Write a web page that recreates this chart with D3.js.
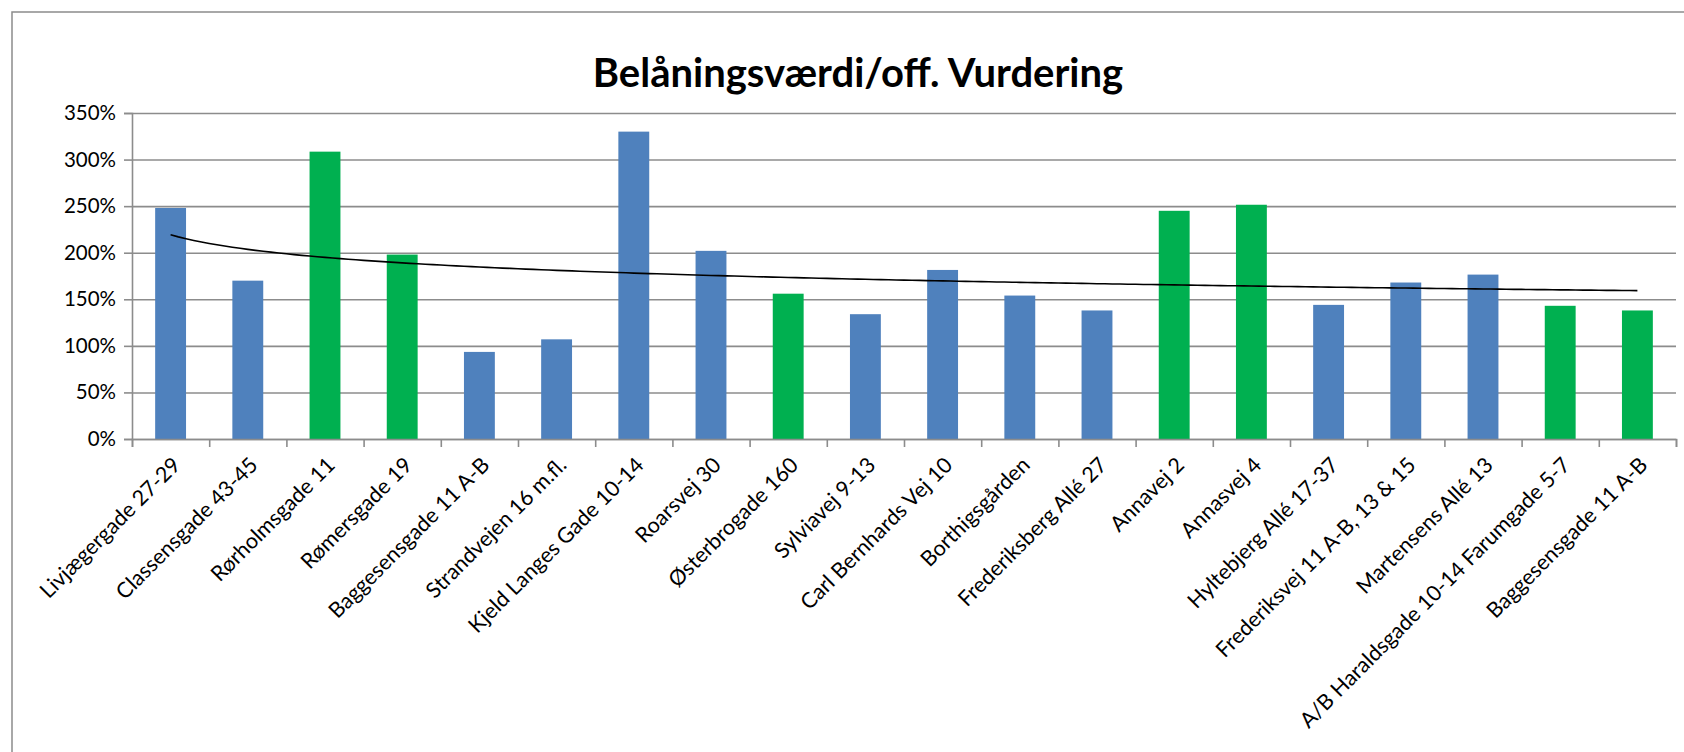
<!DOCTYPE html>
<html>
<head>
<meta charset="utf-8">
<script src="https://cdn.jsdelivr.net/npm/d3@7"></script>
<style>
body{margin:0;background:#fff;}
text{font-family:Lato,"Open Sans",sans-serif;fill:#000;}
</style>
</head>
<body>
<div id="chart"></div>
<script>
var titleText = "Belåningsværdi/off. Vurdering";
var categories = ["Livjægergade 27-29","Classensgade 43-45","Rørholmsgade 11","Rømersgade 19",
	"Baggesensgade 11 A-B","Strandvejen 16 m.fl.","Kjeld Langes Gade 10-14","Roarsvej 30",
	"Østerbrogade 160","Sylviavej 9-13","Carl Bernhards Vej 10","Borthigsgården",
	"Frederiksberg Allé 27","Annavej 2","Annasvej 4","Hyltebjerg Allé 17-37",
	"Frederiksvej 11 A-B, 13 & 15","Martensens Allé 13","A/B Haraldsgade 10-14 Farumgade 5-7","Baggesensgade 11 A-B"];
var values = [2.48,1.70,3.085,1.98,0.935,1.07,3.30,2.02,1.56,1.34,1.815,1.54,1.38,2.45,2.515,1.44,1.68,1.765,1.43,1.38];
// 1 = green group, 0 = blue group
var group = [0,0,1,1,0,0,0,0,1,0,0,0,0,1,1,0,0,0,1,1];
var yTicks = [0,0.5,1,1.5,2,2.5,3,3.5];

var w = 1684, h = 752;
var plotL = 132, plotR = 1676, plotT = 113, plotB = 439;
var colors = ["#4f81bd","#00b050"];
var gridCol = "#8c8c8c";

var svg = d3.select("#chart").append("svg")
	.attr("width",w)
	.attr("height",h);

// chart frame
svg.append("rect")
	.attr("x",12).attr("y",12)
	.attr("width",1692).attr("height",760)
	.attr("fill","none")
	.attr("stroke",gridCol)
	.attr("stroke-width",1.5);

svg.append("text")
	.attr("x",858)
	.attr("y",87)
	.attr("text-anchor","middle")
	.attr("font-size",40)
	.attr("font-weight","bold")
	.text(titleText);

var idx = d3.range(categories.length);
var x = d3.scaleBand().domain(idx).range([plotL,plotR]).paddingInner(0.6).paddingOuter(0.3);
var y = d3.scaleLinear().domain([0,3.5]).range([plotB,plotT]);

// gridlines
var grid = svg.append("g")
	.attr("transform","translate("+plotL+",0)")
	.call(d3.axisLeft(y).tickValues(yTicks).tickSize(-(plotR-plotL)).tickFormat(""));
grid.select(".domain").remove();
grid.selectAll("line").attr("stroke",gridCol).attr("stroke-width",1.6);

// bars
svg.selectAll(".bar")
	.data(idx)
	.enter()
	.append("rect")
	.attr("class","bar")
	.attr("x",function(i){ return x(i); })
	.attr("y",function(i){ return y(values[i]); })
	.attr("width",x.bandwidth())
	.attr("height",function(i){ return y(0)-y(values[i]); })
	.attr("fill",function(i){ return colors[group[i]]; });

// y axis
var yAxis = svg.append("g")
	.attr("transform","translate("+plotL+",0)")
	.call(d3.axisLeft(y).tickValues(yTicks).tickSize(8).tickPadding(8).tickFormat(d3.format(".0%")));
yAxis.select(".domain").attr("stroke",gridCol).attr("stroke-width",1.6);
yAxis.selectAll("line").attr("stroke",gridCol).attr("stroke-width",1.6);
yAxis.selectAll("text").attr("font-size",20.5).attr("font-family","Lato,'Open Sans',sans-serif").attr("fill","#000");

// x axis, ticks between categories
var xEdge = d3.scaleLinear().domain([0,categories.length]).range([plotL,plotR]);
var xAxis = svg.append("g")
	.attr("transform","translate(0,"+plotB+")")
	.call(d3.axisBottom(xEdge).tickValues(d3.range(categories.length+1)).tickSize(8).tickFormat(""));
xAxis.select(".domain").attr("stroke",gridCol).attr("stroke-width",1.6);
xAxis.selectAll("line").attr("stroke",gridCol).attr("stroke-width",1.6);

// category labels
svg.selectAll(".xlabel")
	.data(idx)
	.enter()
	.append("text")
	.attr("class","xlabel")
	.attr("text-anchor","end")
	.attr("font-size",21.5)
	.attr("transform",function(i){
		return "translate("+(x(i)+x.bandwidth()/2+6)+","+(plotB+22)+") rotate(-45)";
	})
	.attr("dy","0.35em")
	.text(function(i){ return categories[i]; });

// power trendline fitted to the bar values (like Excel)
var lx = idx.map(function(i){ return Math.log(i+1); });
var ly = values.map(function(v){ return Math.log(v); });
var mx = d3.mean(lx), my = d3.mean(ly);
var sxy = d3.sum(idx, function(i){ return (lx[i]-mx)*(ly[i]-my); });
var sxx = d3.sum(idx, function(i){ return (lx[i]-mx)*(lx[i]-mx); });
var c = sxy/sxx, b = Math.exp(my - c*mx);
var xPos = d3.scaleLinear().domain([1,categories.length])
	.range([x(0)+x.bandwidth()/2, x(categories.length-1)+x.bandwidth()/2]);
var trend = d3.range(1,categories.length+0.001,0.1).map(function(t){ return [t, b*Math.pow(t,c)]; });
svg.append("path")
	.datum(trend)
	.attr("fill","none")
	.attr("stroke","#000")
	.attr("stroke-width",1.6)
	.attr("d",d3.line()
		.x(function(d){ return xPos(d[0]); })
		.y(function(d){ return y(d[1]); }));
</script>
</body>
</html>
